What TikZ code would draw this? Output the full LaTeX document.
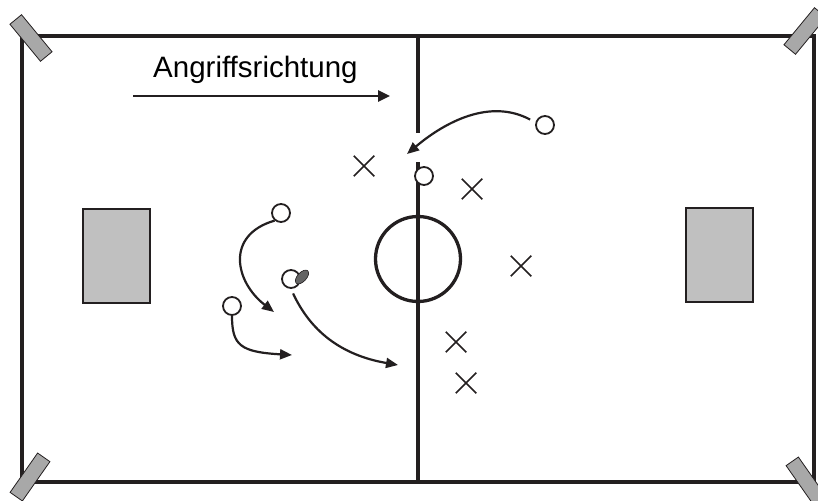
\documentclass[tikz,border=0pt]{standalone}
\usepackage{fontspec}
\newfontfamily\labelfont{Liberation Sans}
\usetikzlibrary{arrows.meta}
\usetikzlibrary{shapes.misc}
\usetikzlibrary{positioning}
\definecolor{custom-black}{RGB}{35, 31, 32}
\definecolor{custom-flag}{RGB}{168, 168, 168}
\definecolor{custom-goal}{RGB}{192, 192, 192}
\definecolor{custom-ball}{RGB}{100, 100, 100}

\begin{document}
\begin{tikzpicture}[x=1pt, y=-1pt,
    fieldline/.style={draw=custom-black, line width=3.3pt},
    player/.style={circle, draw=custom-black, fill=white, line width=1.8pt, minimum size=18pt, inner sep=0pt},
    opponent/.style={cross out, draw=custom-black, line width=1.5pt, minimum size=19pt, inner sep=0pt},
    run/.style={draw=custom-black, line width=2.2pt, -{Triangle[length=12pt, width=10pt]}},
    direction/.style={draw=custom-black, line width=2.6pt, -{Triangle[length=12pt, width=11pt]}},
    flag/.style={fill=custom-flag, draw=custom-black, line width=0.8pt},
    goal/.style={fill=custom-goal, draw=custom-black, line width=1.2pt}]
\useasboundingbox (0,0) rectangle (818,500);
\draw[fieldline] (22,36) rectangle (814,482);
\draw[fieldline] (418,259) circle[radius=42.5];
\draw[fieldline] (418,36) -- (418,133);
\draw[fieldline] (418,162) -- (418,482);
\filldraw[flag, shift={(31,38)}, rotate=-50.5] (-24,-7.5) rectangle (24,7.5);
\filldraw[flag, shift={(805,31)}, rotate=50.5] (-24,-7.5) rectangle (24,7.5);
\filldraw[flag, shift={(30,477)}, rotate=55] (-24,-7.5) rectangle (24,7.5);
\filldraw[flag, shift={(806,481)}, rotate=-55] (-24,-7.5) rectangle (24,7.5);
\filldraw[goal] (83,209) rectangle (150,303);
\filldraw[goal] (686,208) rectangle (753,302);
\node[player] (p-right) at (545,125) {};
\node[player] (p-centre) at (424,176) {};
\node[player] (p-top) at (281,213) {};
\node[player] (p-ball) at (291,279) {};
\node[player] (p-left) at (232,306) {};
\filldraw[fill=custom-ball, draw=custom-black, line width=0.6pt, rotate around={47:(302,277)}] (302,277) ellipse (8.5 and 4.5);
\node[opponent] (x1) at (364,166) {};
\node[opponent] (x2) at (472,189) {};
\node[opponent] (x3) at (521,266) {};
\node[opponent] (x4) at (456,342) {};
\node[opponent] (x5) at (466,383) {};
\coordinate (to-right) at (407,154);
\coordinate (to-top) at (274,312);
\coordinate (to-left) at (292,355);
\coordinate (to-ball) at (398,365);
\draw[run, shorten <=6pt] (p-right.165) .. controls (490,98) and (445,122) .. (to-right);
\draw[run] (p-top.230) .. controls (225,235) and (235,282) .. (to-top);
\draw[run] (p-left.south) .. controls (232,345) and (240,352) .. (to-left);
\draw[run, shorten <=5pt] (p-ball.south) .. controls (310,330) and (340,355) .. (to-ball);
\coordinate (dir-start) at (133,96);
\coordinate (dir-end) at (390,96);
\draw[direction] (dir-start) -- (dir-end);
\node[anchor=base west, inner sep=0pt, font=\labelfont\fontsize{29.5}{32}\selectfont] (label) at (153,78) {Angriffsrichtung};
\end{tikzpicture}
\end{document}
